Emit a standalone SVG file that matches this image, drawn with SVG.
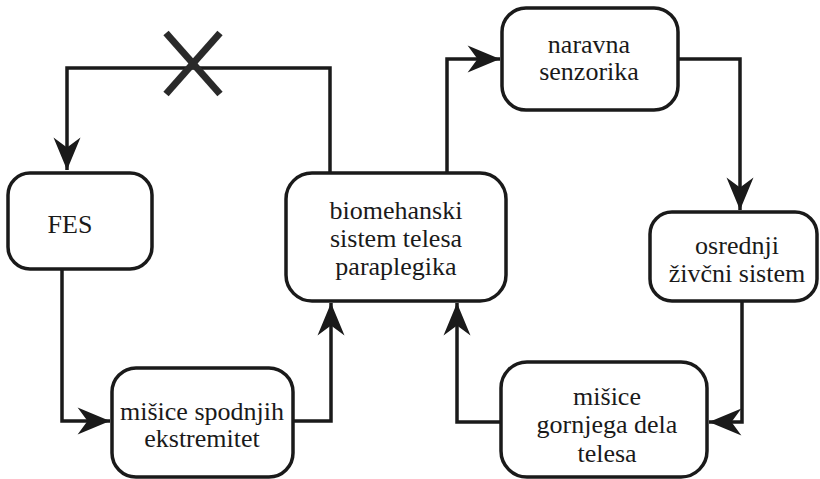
<svg xmlns="http://www.w3.org/2000/svg" width="820" height="479" viewBox="0 0 820 479">
<style>
.box{fill:#fff;stroke:#1a1a1a;stroke-width:3.5}
.ln{fill:none;stroke:#1a1a1a;stroke-width:3.5}
text{font-family:'Liberation Serif','Times New Roman',serif;font-size:26px;fill:#1a1a1a;text-anchor:middle}
</style>
<defs>
<marker id="ah" viewBox="0 0 40 32" refX="38" refY="16" markerWidth="36" markerHeight="29" markerUnits="userSpaceOnUse" orient="auto">
<path d="M38,16 L2,1 L13,16 L2,31 Z" fill="#1a1a1a"/>
</marker>
</defs>
<rect width="820" height="479" fill="#fff"/>
<g id="connectors">
<path class="ln" d="M330,173 V68 H67 V170" marker-end="url(#ah)"/>
<path class="ln" d="M62,269 V421 H110" marker-end="url(#ah)"/>
<path class="ln" d="M293,421 H331 V303" marker-end="url(#ah)"/>
<path class="ln" d="M447,173 V59 H500" marker-end="url(#ah)"/>
<path class="ln" d="M678,59 H740 V210" marker-end="url(#ah)"/>
<path class="ln" d="M742,301 V422 H709" marker-end="url(#ah)"/>
<path class="ln" d="M501,422 H457 V303" marker-end="url(#ah)"/>
<g id="cross" stroke="#2a2a2a" stroke-width="7" stroke-linecap="butt">
<line x1="166" y1="33" x2="220" y2="94"/>
<line x1="220" y1="33" x2="166" y2="94"/>
</g>
</g>
<g id="fes">
<rect class="box" x="8" y="173" width="144" height="96" rx="22"/>
<text x="70" y="233">FES</text>
</g>
<g id="bio">
<rect class="box" x="286" y="173" width="220" height="128" rx="26"/>
<text x="396" y="219">biomehanski</text>
<text x="396" y="247">sistem telesa</text>
<text x="396" y="275">paraplegika</text>
</g>
<g id="naravna">
<rect class="box" x="502" y="8" width="176" height="102" rx="24"/>
<text x="589" y="53">naravna</text>
<text x="589" y="80">senzorika</text>
</g>
<g id="osrednji">
<rect class="box" x="650" y="212" width="167" height="89" rx="22"/>
<text x="737" y="254">osrednji</text>
<text x="737" y="282">živčni sistem</text>
</g>
<g id="spodnjih">
<rect class="box" x="112" y="368" width="181" height="109" rx="24"/>
<text x="202" y="420">mišice spodnjih</text>
<text x="202" y="447">ekstremitet</text>
</g>
<g id="gornjega">
<rect class="box" x="501" y="362" width="206" height="115" rx="26"/>
<text x="607" y="405">mišice</text>
<text x="607" y="433">gornjega dela</text>
<text x="607" y="462">telesa</text>
</g>
</svg>
